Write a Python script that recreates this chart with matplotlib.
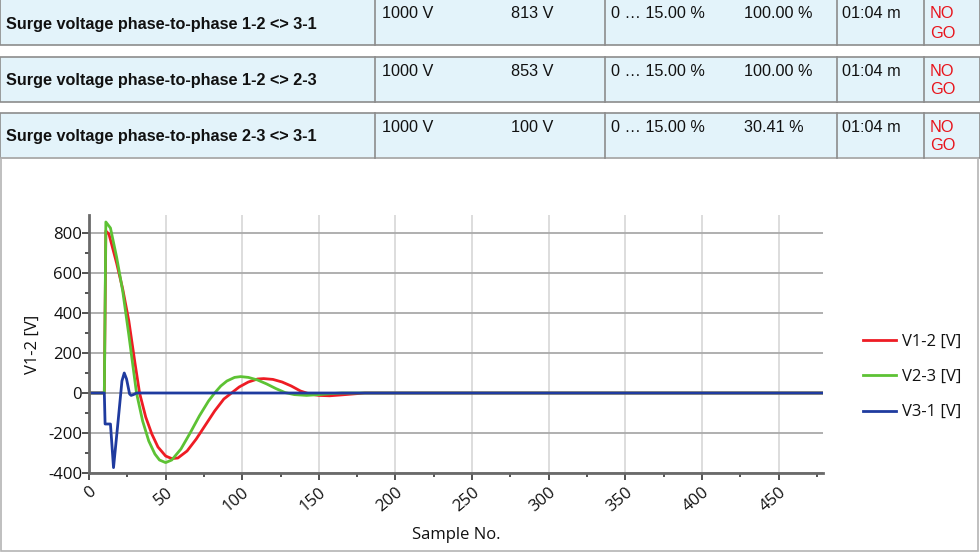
import matplotlib
matplotlib.use("Agg")
import matplotlib.pyplot as plt
from matplotlib.patches import Rectangle
from matplotlib.lines import Line2D
from matplotlib.ticker import MultipleLocator

plt.rcParams["axes.unicode_minus"] = False

# ---------------- data ----------------
row_titles = ["Surge voltage phase-to-phase 1-2 <> 3-1",
              "Surge voltage phase-to-phase 1-2 <> 2-3",
              "Surge voltage phase-to-phase 2-3 <> 3-1"]
nominal = ["1000 V", "1000 V", "1000 V"]
measured = ["813 V", "853 V", "100 V"]
tolerance = ["0 \u2026 15.00 %", "0 \u2026 15.00 %", "0 \u2026 15.00 %"]
deviation = ["100.00 %", "100.00 %", "30.41 %"]
duration = ["01:04 m", "01:04 m", "01:04 m"]
result = ["NO\nGO", "NO\nGO", "NO\nGO"]

v12_x = [0, 10, 11, 13, 18, 22, 26, 30, 33, 37, 41, 45, 50, 54, 58, 64, 70, 76, 82, 88, 93,
         98, 104, 110, 114, 120, 126, 132, 138, 144, 150, 157, 164, 172, 180, 479]
v12_y = [0, 0, 810, 795, 650, 520, 360, 150, 0, -120, -205, -270, -315, -328, -325, -290,
         -230, -160, -90, -30, 0, 30, 55, 70, 72, 68, 55, 35, 10, -5, -12, -14, -10, -5, 0, 0]

v23_x = [0, 10, 11, 14, 18, 22, 26, 31, 35, 39, 43, 46, 50, 54, 60, 66, 72, 78, 82, 86, 90,
         95, 99, 104, 110, 116, 122, 128, 134, 142, 150, 158, 165, 479]
v23_y = [0, 0, 855, 825, 680, 510, 290, 0, -140, -240, -305, -335, -348, -335, -280, -200,
         -115, -40, 0, 35, 60, 78, 82, 78, 65, 45, 22, 2, -8, -12, -8, -3, 0, 0]

v31_x = [0, 10, 10.5, 14, 16, 19, 21.5, 23, 24.5, 26.5, 27.5, 29, 31, 479]
v31_y = [0, 0, -155, -155, -373, -140, 60, 100, 70, -5, -12, -8, 0, 0]

series_labels = ["V1-2 [V]", "V2-3 [V]", "V3-1 [V]"]
series_colors = ["#ee1c24", "#5dc234", "#1f3b9f"]

# ---------------- figure ----------------
W, H = 980, 554
fig = plt.figure(figsize=(W / 100, H / 100), dpi=100)
fig.patch.set_facecolor("white")


def fx(px):
    return px / W


def fy(py):
    return 1 - py / H


table_font = "Liberation Sans"
row_tops = [-2, 57, 113]
row_bottoms = [45, 102, 158]
col_seps = [375, 605, 837, 924]
row_fill = "#e3f3fa"
row_edge = "#8c8c8c"
tfs = 11.7

for i in range(3):
    t, b = row_tops[i], row_bottoms[i]
    fig.add_artist(Rectangle((fx(0), fy(b)), fx(980), (b - t) / H,
                             transform=fig.transFigure, facecolor=row_fill,
                             edgecolor=row_edge, linewidth=1.2))
    for c in col_seps:
        fig.add_artist(Line2D([fx(c), fx(c)], [fy(t), fy(b)], transform=fig.transFigure,
                              color=row_edge, linewidth=1.2))
    mid = (max(t, 0) + b) / 2 + 1.5
    ytop = t + 14 if t > 0 else 14
    fig.text(fx(6), fy(mid), row_titles[i], family=table_font, fontweight="bold",
             fontsize=tfs, va="center", ha="left", color="#111111")
    fig.text(fx(382), fy(ytop), nominal[i], family=table_font, fontsize=tfs,
             va="center", ha="left", color="#111111")
    fig.text(fx(553), fy(ytop), measured[i], family=table_font, fontsize=tfs,
             va="center", ha="right", color="#111111")
    fig.text(fx(611), fy(ytop), tolerance[i], family=table_font, fontsize=tfs,
             va="center", ha="left", color="#111111")
    fig.text(fx(744), fy(ytop), deviation[i], family=table_font, fontsize=tfs,
             va="center", ha="left", color="#111111")
    fig.text(fx(842), fy(ytop), duration[i], family=table_font, fontsize=tfs,
             va="center", ha="left", color="#111111")
    no, go = result[i].split("\n")
    fig.text(fx(930), fy(ytop), no, family=table_font, fontsize=tfs,
             va="center", ha="left", color="#e8141c")
    fig.text(fx(930), fy(ytop + 19), go, family=table_font, fontsize=tfs,
             va="center", ha="left", color="#e8141c")

# chart panel border
fig.add_artist(Rectangle((fx(1), fy(551)), fx(977), (551 - 158) / H,
                         transform=fig.transFigure, facecolor="none",
                         edgecolor="#b4b4b4", linewidth=1.2))

# ---------------- chart ----------------
chart_font = "Open Sans"
ax_l, ax_r, ax_t, ax_b = 89, 823, 215, 473
ax = fig.add_axes([fx(ax_l), fy(ax_b), (ax_r - ax_l) / W, (ax_b - ax_t) / H])
ax.set_facecolor("white")

for xs, ys, lab, col in zip([v12_x, v23_x, v31_x], [v12_y, v23_y, v31_y],
                            series_labels, series_colors):
    ax.plot(xs, ys, color=col, linewidth=2.0, label=lab, solid_joinstyle="round")

ax.set_xlim(0, 479)
ax.set_ylim(-400, 890)
ax.xaxis.set_major_locator(MultipleLocator(50))
ax.xaxis.set_minor_locator(MultipleLocator(25))
ax.yaxis.set_major_locator(MultipleLocator(200))
ax.yaxis.set_minor_locator(MultipleLocator(100))

ax.grid(axis="y", which="major", color="#a9a9a9", linewidth=1.3)
ax.grid(axis="x", which="major", color="#dadada", linewidth=1.3)
ax.set_axisbelow(True)

for s in ["top", "right"]:
    ax.spines[s].set_visible(False)
for s in ["left", "bottom"]:
    ax.spines[s].set_color("#6a6a6a")
    ax.spines[s].set_linewidth(2.0)

ax.tick_params(axis="both", which="major", direction="out", length=5, width=1.3,
               color="#444444", labelsize=12, labelcolor="#111111")
ax.tick_params(axis="both", which="minor", direction="out", length=3, width=1.3,
               color="#444444")
ax.tick_params(axis="x", which="major", pad=3)
ax.tick_params(axis="y", which="major", pad=0)
for lbl in ax.get_xticklabels():
    lbl.set_rotation(40)
    lbl.set_ha("right")
    lbl.set_va("top")
    lbl.set_rotation_mode("anchor")
    lbl.set_family(chart_font)
for lbl in ax.get_yticklabels():
    lbl.set_family(chart_font)

ax.set_xlabel("Sample No.", family=chart_font, fontsize=12, color="#111111", labelpad=9)
ax.set_ylabel("V1-2 [V]", family=chart_font, fontsize=12, color="#111111", labelpad=5)

leg = ax.legend(loc="center left",
                bbox_to_anchor=((858 - ax_l) / (ax_r - ax_l), (ax_b - 377) / (ax_b - ax_t)),
                frameon=False, prop={"family": chart_font, "size": 12},
                handlelength=2.0, handletextpad=0.35, labelspacing=1.16,
                borderaxespad=0.0, borderpad=0.3)
for t in leg.get_texts():
    t.set_color("#111111")

fig.savefig("out.png", dpi=100, facecolor="white")
